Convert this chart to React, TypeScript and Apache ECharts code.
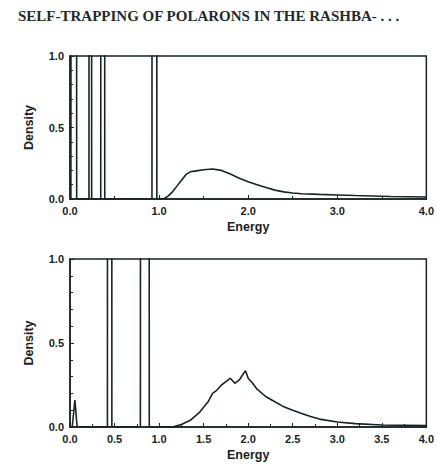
import React, { useEffect, useRef } from "react";
import * as echarts from "echarts";

const titleText = "SELF-TRAPPING OF POLARONS IN THE RASHBA- . . .";

// Top panel: narrow bound-state spikes (clipped at 1.0) and continuum
const topSpikes: [number, number, number][] = [
  [0.01, 0.042, 0.075],
  [0.213, 0.228, 0.243],
  [0.345, 0.368, 0.39],
  [0.92, 0.948, 0.975],
];
const topEnergy = [1.05, 1.1, 1.15, 1.2, 1.25, 1.3, 1.35, 1.4, 1.5, 1.6, 1.7, 1.8, 1.9, 2.0, 2.1, 2.2, 2.3, 2.4, 2.5, 2.6, 2.8, 3.0, 3.2, 3.4, 3.6, 3.8, 4.0];
const topDensity = [0.0, 0.02, 0.05, 0.09, 0.13, 0.17, 0.19, 0.195, 0.205, 0.21, 0.2, 0.175, 0.145, 0.12, 0.1, 0.08, 0.062, 0.05, 0.042, 0.037, 0.032, 0.028, 0.024, 0.021, 0.018, 0.016, 0.014];

// Bottom panel
const bottomSpikes: [number, number, number][] = [
  [0.42, 0.445, 0.47],
  [0.79, 0.84, 0.89],
];
const bottomSmallPeak: [number, number][] = [
  [0.025, 0],
  [0.055, 0.16],
  [0.08, 0],
];
const bottomEnergy = [1.15, 1.25, 1.35, 1.45, 1.55, 1.6, 1.65, 1.7, 1.75, 1.8, 1.85, 1.9, 1.95, 1.97, 2.0, 2.05, 2.1, 2.2, 2.3, 2.4, 2.5, 2.6, 2.7, 2.8, 3.0, 3.2, 3.5, 4.0];
const bottomDensity = [0.0, 0.015, 0.04, 0.085, 0.15, 0.2, 0.22, 0.25, 0.27, 0.29, 0.26, 0.28, 0.32, 0.335, 0.29, 0.26, 0.225, 0.18, 0.15, 0.12, 0.1, 0.08, 0.062, 0.047, 0.03, 0.02, 0.012, 0.008];

const SPIKE_HEIGHT = 60;

function buildSeries(spikes: [number, number, number][], extraStart: [number, number][], energy: number[], density: number[]) {
  const pts: [number, number][] = [[0, 0]];
  extraStart.forEach((p) => pts.push(p));
  spikes.forEach(([a, m, b]) => {
    pts.push([a, 0]);
    pts.push([m, SPIKE_HEIGHT]);
    pts.push([b, 0]);
  });
  energy.forEach((e, i) => pts.push([e, density[i]]));
  return pts;
}

const INK = "#172424";

export default function App() {
  const ref = useRef<HTMLDivElement>(null);
  useEffect(() => {
    const chart = echarts.init(ref.current!, null, { renderer: "svg" });
    const axisLabel = { color: INK, fontFamily: "Liberation Sans", fontWeight: "bold" as const, fontSize: 11 };
    const nameStyle = { color: INK, fontFamily: "Liberation Sans", fontWeight: "bold" as const, fontSize: 12.5 };
    const xAxisBase = (gi: number, interval: number) => ({
      type: "value" as const,
      gridIndex: gi,
      min: 0,
      max: 4,
      interval,
      name: "Energy",
      nameLocation: "middle" as const,
      nameGap: 21,
      nameTextStyle: nameStyle,
      axisLine: { lineStyle: { color: INK, width: 1.5 } },
      axisTick: { inside: true, length: 4, lineStyle: { color: INK } },
      minorTick: { show: true, splitNumber: 2, length: 3, lineStyle: { color: INK } },
      splitLine: { show: false },
      axisLabel: { ...axisLabel, margin: 6, formatter: (v: number) => v.toFixed(1) },
    });
    const yAxisBase = (gi: number) => ({
      type: "value" as const,
      gridIndex: gi,
      min: 0,
      max: 1,
      interval: 0.5,
      name: "Density",
      nameLocation: "middle" as const,
      nameGap: 35,
      nameTextStyle: nameStyle,
      axisLine: { show: true, lineStyle: { color: INK, width: 1.5 } },
      axisTick: { show: true, inside: true, length: 4, lineStyle: { color: INK } },
      minorTick: { show: true, splitNumber: 5, length: 3, lineStyle: { color: INK } },
      splitLine: { show: false },
      axisLabel: { ...axisLabel, margin: 6, formatter: (v: number) => v.toFixed(1) },
    });
    const line = (xi: number, data: [number, number][]) => ({
      type: "line" as const,
      xAxisIndex: xi,
      yAxisIndex: xi,
      data,
      showSymbol: false,
      clip: true,
      lineStyle: { color: INK, width: 1.6 },
    });
    chart.setOption({
      animation: false,
      graphic: [
        {
          type: "text",
          left: 18,
          top: 8,
          style: { text: titleText, fill: "#1f2b2b", font: "bold 15px 'Liberation Serif'" },
        },
      ],
      grid: [
        { left: 70, right: 5, top: 56, height: 143, show: true, borderColor: INK, borderWidth: 1.5 },
        { left: 70, right: 5, top: 259, height: 168, show: true, borderColor: INK, borderWidth: 1.5 },
      ],
      xAxis: [xAxisBase(0, 1), xAxisBase(1, 0.5)],
      yAxis: [yAxisBase(0), yAxisBase(1)],
      series: [
        line(0, buildSeries(topSpikes, [], topEnergy, topDensity)),
        line(1, buildSeries(bottomSpikes, bottomSmallPeak, bottomEnergy, bottomDensity)),
      ],
    });
    return () => chart.dispose();
  }, []);
  return <div ref={ref} style={{ position: "fixed", left: 0, top: 0, width: 437, height: 465, background: "#fff" }} />;
}
